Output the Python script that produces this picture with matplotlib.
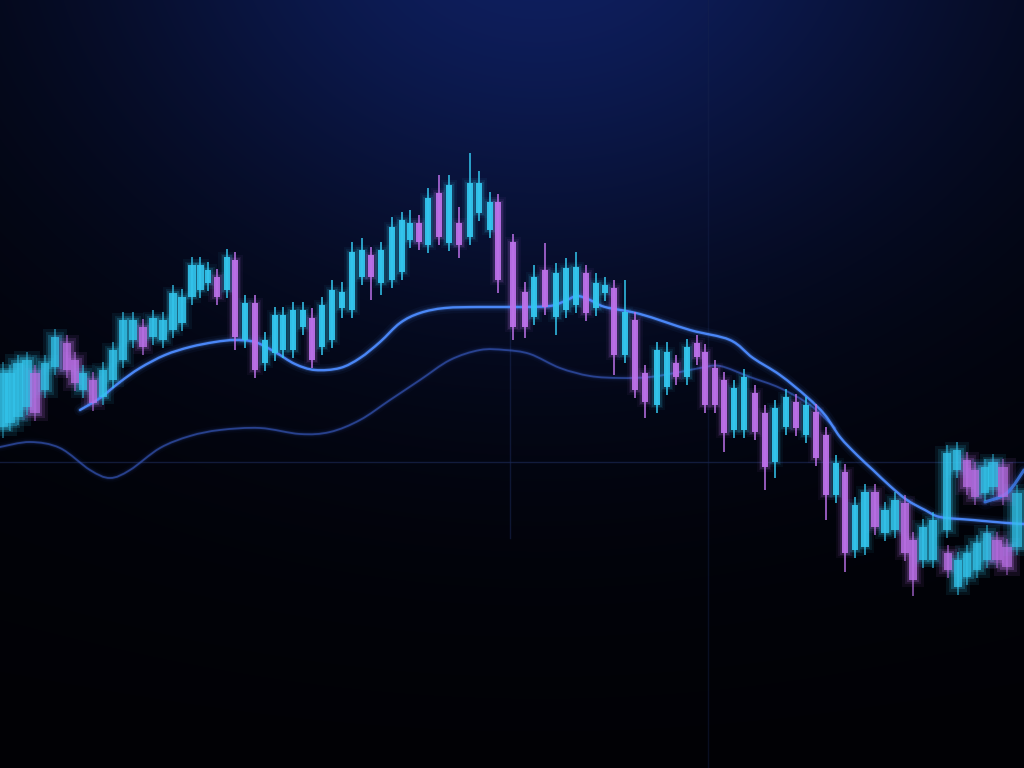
import numpy as np
import matplotlib
matplotlib.use("Agg")
import matplotlib.pyplot as plt
from matplotlib.path import Path
from matplotlib.patches import PathPatch

# candle times (screen columns) and OHLC prices
t = [3, 10, 18, 27, 35, 45, 55, 67, 75, 83, 93, 103, 113, 123, 133, 143, 153, 163, 173, 182,
     192, 200, 208, 217, 227, 235, 245, 255, 265, 275, 283, 293, 303, 312, 322, 332, 342, 352, 362, 371,
     381, 392, 402, 410, 419, 428, 439, 449, 459, 470, 479, 490, 498, 513, 525, 534, 545, 556, 566, 576,
     586, 596, 605, 614, 625, 635, 645, 657, 667, 676, 687, 697, 705, 715, 724, 734, 744, 755, 765, 775,
     786, 796, 806, 816, 826, 836, 845, 855, 865, 875, 885, 895, 905, 913, 923, 933, 948, 958, 967, 977,
     987, 997, 1007, 1017]
opens = [341, 345, 351, 361, 395, 378, 401, 425, 408, 378, 388, 371, 388, 408, 428, 441, 431, 428, 438, 445,
         471, 478, 485, 491, 478, 508, 428, 465, 405, 415, 418, 418, 441, 450, 421, 428, 460, 458, 491, 513,
         485, 488, 496, 528, 545, 523, 575, 525, 545, 531, 555, 538, 566, 526, 476, 451, 498, 451, 458, 463,
         495, 460, 475, 480, 413, 448, 395, 363, 381, 405, 391, 425, 416, 400, 388, 338, 338, 375, 355, 306,
         341, 366, 333, 356, 333, 273, 296, 218, 221, 276, 235, 238, 265, 228, 208, 208, 215, 181, 191, 198,
         208, 228, 221, 221]
closes = [395, 395, 405, 408, 355, 405, 431, 398, 385, 395, 365, 398, 418, 448, 448, 421, 450, 448, 475, 471,
          503, 503, 498, 471, 511, 431, 465, 398, 428, 453, 453, 458, 458, 408, 463, 478, 476, 516, 518, 491,
          518, 541, 548, 545, 526, 570, 531, 583, 523, 585, 585, 566, 488, 441, 441, 491, 461, 495, 500, 501,
          455, 485, 483, 413, 456, 378, 366, 418, 416, 391, 421, 411, 363, 363, 335, 380, 391, 336, 301, 360,
          371, 340, 363, 310, 273, 305, 215, 263, 276, 241, 258, 268, 215, 188, 241, 248, 198, 208, 215, 225,
          235, 208, 201, 275]
highs = [406, 403, 413, 416, 403, 413, 439, 433, 416, 403, 396, 406, 426, 456, 456, 449, 458, 456, 483, 479,
         511, 511, 506, 499, 519, 516, 473, 473, 436, 461, 461, 466, 466, 460, 471, 488, 486, 526, 530, 521,
         526, 551, 556, 558, 553, 580, 593, 593, 561, 615, 597, 576, 574, 534, 486, 503, 525, 505, 510, 516,
         503, 495, 491, 488, 488, 456, 403, 426, 426, 413, 429, 433, 424, 408, 396, 388, 399, 383, 363, 368,
         379, 374, 371, 364, 341, 313, 304, 271, 284, 284, 266, 276, 273, 236, 249, 256, 223, 216, 223, 233,
         243, 236, 229, 283]
lows = [330, 337, 343, 353, 347, 370, 393, 390, 377, 370, 357, 363, 380, 400, 420, 413, 423, 420, 430, 437,
        463, 470, 477, 463, 470, 418, 420, 390, 397, 407, 410, 410, 433, 400, 413, 420, 450, 450, 483, 468,
        473, 480, 488, 520, 518, 515, 523, 517, 510, 523, 547, 530, 475, 428, 430, 443, 453, 433, 450, 455,
        447, 452, 467, 393, 405, 370, 350, 355, 373, 383, 383, 403, 355, 355, 316, 330, 330, 328, 278, 290,
        333, 332, 325, 302, 248, 265, 196, 210, 213, 233, 227, 230, 207, 172, 200, 200, 190, 173, 183, 190,
        200, 200, 193, 213]

# ghost candles stacked over the right edge
t2 = [947, 957, 967, 975, 985, 993, 1003]
opens2 = [238, 298, 308, 298, 275, 281, 301]
closes2 = [315, 318, 281, 271, 301, 306, 271]
highs2 = [323, 326, 316, 306, 309, 314, 309]
lows2 = [230, 290, 273, 263, 267, 273, 263]

# moving averages
ma_fast_t = [80, 100, 120, 140, 165, 190, 215, 235, 255, 275, 295, 315, 340, 360, 380, 400, 420, 445, 480, 520,
             550, 565, 577, 590, 605, 640, 690, 730, 753, 780, 807, 825, 840, 857, 873, 890, 907, 925, 940, 973,
             1007, 1024]
ma_fast = [358, 370, 386, 400, 413, 421, 426, 428, 426, 416, 404, 398, 400, 410, 426, 445, 455, 460, 461, 461,
           462, 467, 472, 468, 461, 454, 438, 428, 410, 393, 371, 353, 331, 313, 298, 282, 268, 258, 251, 248,
           245, 244]
ma_slow_t = [0, 30, 60, 90, 110, 130, 160, 190, 220, 260, 300, 330, 360, 390, 420, 450, 480, 505, 530, 560,
             590, 620, 650, 680, 700, 720, 750, 780, 810, 835]
ma_slow = [321, 326, 320, 298, 290, 298, 320, 332, 338, 340, 334, 336, 348, 368, 388, 408, 418, 418, 414, 400,
           392, 390, 391, 396, 400, 402, 391, 380, 363, 340]
ma_ghost_t = [985, 1007, 1024]
ma_ghost = [266, 275, 298]

CYAN = "#33c6ee"
VIOLET = "#bb70e8"

fig = plt.figure(figsize=(10.24, 7.68), dpi=100)
ax = fig.add_axes([0, 0, 1, 1])
ax.set_xlim(0, 1024)
ax.set_ylim(0, 768)
ax.axis("off")

# dark navy backdrop with a soft glow from the top centre
H, W = 768, 1024
yy, xx = np.mgrid[0:H, 0:W]
d2 = ((xx - 540) / 560.0) ** 2 + ((yy + 40) / 470.0) ** 2
glow = np.exp(-d2 * 1.5)
base = np.array([2, 3, 10]) / 255.0
top = np.array([14, 30, 92]) / 255.0
bg = base + glow[..., None] * (top - base)
bg *= (1 - 0.5 * (yy / H))[..., None]
ax.imshow(bg, extent=(0, 1024, 0, 768), origin="upper", aspect="auto", zorder=0)

# faint grid
ax.axhline(306, color="#22336a", lw=1.0, alpha=0.5, zorder=1)
ax.plot([510, 510], [230, 480], color="#1b2a5a", lw=1.0, alpha=0.5, zorder=1)
ax.axvline(708, color="#17244d", lw=1.0, alpha=0.4, zorder=1)


def smooth_path(xs, ys):
    # Catmull-Rom knots turned into cubic Bezier segments
    p = np.column_stack([xs, ys]).astype(float)
    verts = [p[0]]
    codes = [Path.MOVETO]
    for i in range(len(p) - 1):
        p0 = p[i - 1] if i > 0 else p[i]
        p3 = p[i + 2] if i + 2 < len(p) else p[i + 1]
        c1 = p[i] + (p[i + 1] - p0) / 6.0
        c2 = p[i + 1] - (p3 - p[i]) / 6.0
        verts += [c1, c2, p[i + 1]]
        codes += [Path.CURVE4] * 3
    return Path(verts, codes)


def glow_line(xs, ys, color, lw, alpha, z):
    path = smooth_path(xs, ys)
    for k, a in [(5, 0.05), (3, 0.1), (1.8, 0.2), (1, 1.0)]:
        ax.add_patch(PathPatch(path, fill=False, edgecolor=color, lw=lw * k,
                               alpha=a * alpha, capstyle="round", zorder=z))


glow_line(ma_slow_t, ma_slow, "#3454b4", 1.3, 0.7, 2)
glow_line(ma_fast_t, ma_fast, "#4d8cff", 1.7, 0.95, 4)
glow_line(ma_ghost_t, ma_ghost, "#3f7ef0", 2.2, 0.8, 4)


def candles(ts, o, c, h, l, z):
    for x, op, cl, hi, lo in zip(ts, o, c, h, l):
        col = CYAN if cl >= op else VIOLET
        blur = max(0.0, (240 - x) / 240.0, (x - 830) / 190.0)
        w = 6.5 + 3.0 * blur
        lo_b, hi_b = min(op, cl), max(op, cl)
        # glow halo
        for extra, a in [(10, 0.05), (6, 0.08), (3, 0.14)]:
            e = extra * (1 + 0.8 * blur)
            ax.bar(x, hi_b - lo_b + e, bottom=lo_b - e / 2, width=w + e, color=col,
                   alpha=a * (1 + blur), lw=0, zorder=z)
        ax.vlines(x, lo, hi, color=col, lw=1.3, alpha=0.85 - 0.4 * blur, zorder=z + 1)
        ax.bar(x, hi_b - lo_b, bottom=lo_b, width=w, color=col, alpha=0.95 - 0.3 * blur,
               lw=0, zorder=z + 1)


candles(t, opens, closes, highs, lows, 3)
candles(t2, opens2, closes2, highs2, lows2, 3)

fig.savefig("out.png", dpi=100, facecolor="black")
